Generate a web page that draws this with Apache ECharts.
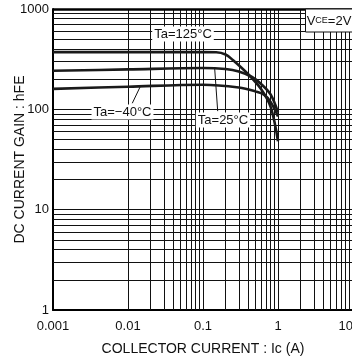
<!DOCTYPE html>
<html>
<head>
<meta charset="utf-8">
<script src="https://cdn.jsdelivr.net/npm/echarts@6/dist/echarts.min.js"></script>
<style>
  html, body { margin: 0; padding: 0; background: #fff; }
  #chart { width: 352px; height: 360px; }
</style>
</head>
<body>
<div id="chart"></div>
<script>
// collector current (A) and hFE
var ic125 = [0.001, 0.01, 0.1, 0.15, 0.2, 0.25, 0.4, 0.6, 0.8, 1.0];
var hfe125 = [372, 372, 372, 371, 352, 310, 224, 158, 105, 48];
var ic25 = [0.001, 0.01, 0.1, 0.2, 0.3, 0.45, 0.6, 0.8, 1.0];
var hfe25 = [242, 250, 258, 252, 238, 210, 178, 140, 93];
var icM40 = [0.001, 0.01, 0.1, 0.3, 0.5, 0.65, 0.8, 1.0];
var hfeM40 = [160, 168, 176, 165, 151, 140, 118, 85];

// decades and minor grid steps of the log paper
var xDecades = [0.001, 0.01, 0.1, 1];
var yDecades = [1, 10, 100];
var minorSteps = [2, 3, 4, 5, 6, 7, 8, 9];

// leader lines from curve to label [[x, y], [x, y]]
var leaderM40 = [[0.0146, 169], [0.0114, 115]];
var leader25 = [[0.143, 258], [0.157, 96]];

function pairs(xs, ys) {
    return xs.map(function (x, i) { return [x, ys[i]]; });
}

var gridLines = [];
xDecades.forEach(function (d) {
    minorSteps.forEach(function (s) { gridLines.push({ xAxis: d * s }); });
});
yDecades.forEach(function (d) {
    minorSteps.forEach(function (s) { gridLines.push({ yAxis: d * s }); });
});

var curveStyle = { color: '#1a1a1a', width: 2.6 };
var font = '"Liberation Sans", Arial, sans-serif';
var plain = function (v) { return String(+v.toPrecision(3)); };

var chart = echarts.init(document.getElementById('chart'));
chart.setOption({
    backgroundColor: '#fff',
    animation: false,
    grid: { left: 53, top: 9, right: -1, bottom: 50, outerBoundsMode: 'none', containLabel: false },
    xAxis: {
        type: 'log', logBase: 10, min: 0.001, max: 10,
        name: 'COLLECTOR CURRENT : Ic (A)',
        nameLocation: 'middle', nameGap: 32, nameMoveOverlap: false,
        nameTextStyle: { color: '#111', fontSize: 14, fontFamily: font },
        axisLine: { lineStyle: { color: '#000', width: 2 } },
        axisTick: { show: false },
        axisLabel: {
            color: '#111', fontSize: 13, fontFamily: font, margin: 10,
            alignMinLabel: 'center', alignMaxLabel: 'right', formatter: plain
        },
        splitLine: { show: true, lineStyle: { color: '#111', width: 1 } }
    },
    yAxis: {
        type: 'log', logBase: 10, min: 1, max: 1000,
        name: 'DC CURRENT GAIN : hFE',
        nameLocation: 'middle', nameGap: 26, nameMoveOverlap: false,
        nameTextStyle: { color: '#111', fontSize: 14, fontFamily: font },
        axisLine: { lineStyle: { color: '#000', width: 2 } },
        axisTick: { show: false },
        axisLabel: { color: '#111', fontSize: 13, fontFamily: font, margin: 4, formatter: plain },
        splitLine: { show: true, lineStyle: { color: '#111', width: 1 } }
    },
    series: [
        {
            type: 'line', data: [], silent: true,
            markLine: {
                silent: true, symbol: 'none', animation: false,
                label: { show: false },
                lineStyle: { color: '#111', width: 1, type: 'solid' },
                data: gridLines.concat([{ yAxis: 1000, lineStyle: { width: 2.5, color: '#000' } }])
            }
        },
        {
            name: 'Ta=125°C', type: 'line', data: pairs(ic125, hfe125),
            smooth: 0.35, showSymbol: false, lineStyle: curveStyle, z: 5
        },
        {
            name: 'Ta=25°C', type: 'line', data: pairs(ic25, hfe25),
            smooth: 0.35, showSymbol: false, lineStyle: curveStyle, z: 5,
            markLine: {
                silent: true, symbol: 'none', label: { show: false },
                lineStyle: { color: '#111', width: 1, type: 'solid' },
                data: [[{ coord: leader25[0] }, { coord: leader25[1] }]]
            }
        },
        {
            name: 'Ta=−40°C', type: 'line', data: pairs(icM40, hfeM40),
            smooth: 0.35, showSymbol: false, lineStyle: curveStyle, z: 5,
            markLine: {
                silent: true, symbol: 'none', label: { show: false },
                lineStyle: { color: '#111', width: 1, type: 'solid' },
                data: [[{ coord: leaderM40[0] }, { coord: leaderM40[1] }]]
            }
        }
    ],
    graphic: [
        {
            type: 'text', x: 183, y: 34, z: 100,
            style: {
                text: 'Ta=125°C', fill: '#111', font: '13px ' + font,
                align: 'center', verticalAlign: 'middle',
                backgroundColor: '#fff', padding: [1, 2]
            }
        },
        {
            type: 'text', x: 122.5, y: 112, z: 100,
            style: {
                text: 'Ta=−40°C', fill: '#111', font: '13px ' + font,
                align: 'center', verticalAlign: 'middle',
                backgroundColor: '#fff', padding: [1, 2]
            }
        },
        {
            type: 'text', x: 223, y: 120, z: 100,
            style: {
                text: 'Ta=25°C', fill: '#111', font: '13px ' + font,
                align: 'center', verticalAlign: 'middle',
                backgroundColor: '#fff', padding: [1, 2]
            }
        },
        {
            type: 'rect', z: 100,
            shape: { x: 305.5, y: 9, width: 50, height: 23 },
            style: { fill: '#fff', stroke: '#111', lineWidth: 1 }
        },
        {
            type: 'text', x: 329, y: 21, z: 101,
            style: {
                text: '{v|V}{s|CE}{v|=2V}', fill: '#111',
                align: 'center', verticalAlign: 'middle',
                rich: {
                    v: { fontSize: 13, fontFamily: font, fill: '#111' },
                    s: { fontSize: 9, fontFamily: font, fill: '#111' }
                }
            }
        }
    ]
});
</script>
</body>
</html>
